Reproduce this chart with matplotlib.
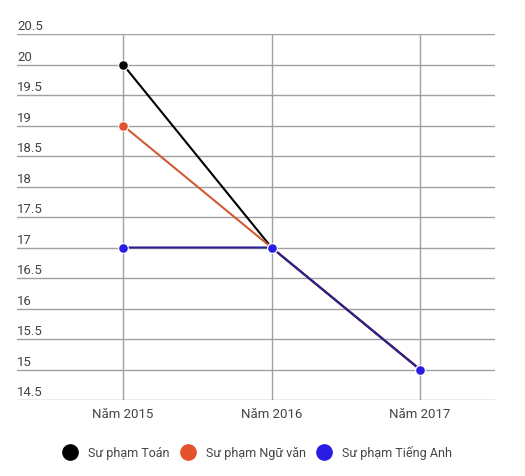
import matplotlib.pyplot as plt
from matplotlib.lines import Line2D

plt.rcParams['font.family'] = ['Roboto', 'DejaVu Sans']

nam = ["Năm 2015", "Năm 2016", "Năm 2017"]
toan = [20, 17, 15]
ngu_van = [19, 17, 15]
tieng_anh = [17, 17, 15]
ten_series = ["Sư phạm Toán", "Sư phạm Ngữ văn", "Sư phạm Tiếng Anh"]
mau = ["#000000", "#e3522a", "#2a1de3"]
mau_duong = ["#000000", "#d25a35", "#2b2093"]
y_ticks = [14.5, 15, 15.5, 16, 16.5, 17, 17.5, 18, 18.5, 19, 19.5, 20, 20.5]

fig = plt.figure(figsize=(5.25, 4.77), dpi=100)
ax = fig.add_axes([17 / 525, 1 - 401 / 477, (495 - 17) / 525, (401 - 35) / 477])

x = range(len(nam))
for vals, c, cd in zip([toan, ngu_van, tieng_anh], mau, mau_duong):
    ax.plot(x, vals, color=cd, linewidth=1.5, zorder=3)
for vals, c in zip([toan, ngu_van, tieng_anh], mau):
    ax.plot(x, vals, linestyle='none', marker='o', markersize=7, markerfacecolor=c,
            markeredgecolor='white', markeredgewidth=0.8, zorder=4)

ax.set_xlim(-0.714, 2.505)
ax.set_ylim(14.5, 20.5)
ax.set_yticks(y_ticks)
ax.set_xticks(list(x))
ax.grid(True, color="#a0a0a0", linewidth=1)
for s in ax.spines.values():
    s.set_visible(False)
ax.tick_params(length=0, labelleft=False, labelbottom=False)

# nhãn trục x
for i, lab in enumerate(nam):
    ax.annotate(lab, (i, 14.5), xytext=(0, -5), textcoords='offset points',
                ha='center', va='top', fontsize=9.5, color="#444444")
# nhãn trục y, nằm trên đường lưới
for v in y_ticks:
    ax.annotate(f"{v:g}", (0, v), xycoords=('axes fraction', 'data'),
                xytext=(0, 5.8), textcoords='offset points', ha='left', va='center',
                fontsize=9.5, color="#444444")

handles = [Line2D([], [], linestyle='none', marker='o', markersize=11, color=c) for c in mau]
fig.legend(handles, ten_series, loc='center', bbox_to_anchor=(0.49, 1 - 453 / 477),
           ncol=3, frameon=False, fontsize=9, handletextpad=0.8, columnspacing=0.9,
           labelcolor="#444444", handlelength=1.2)

fig.savefig("out.png", dpi=100)
